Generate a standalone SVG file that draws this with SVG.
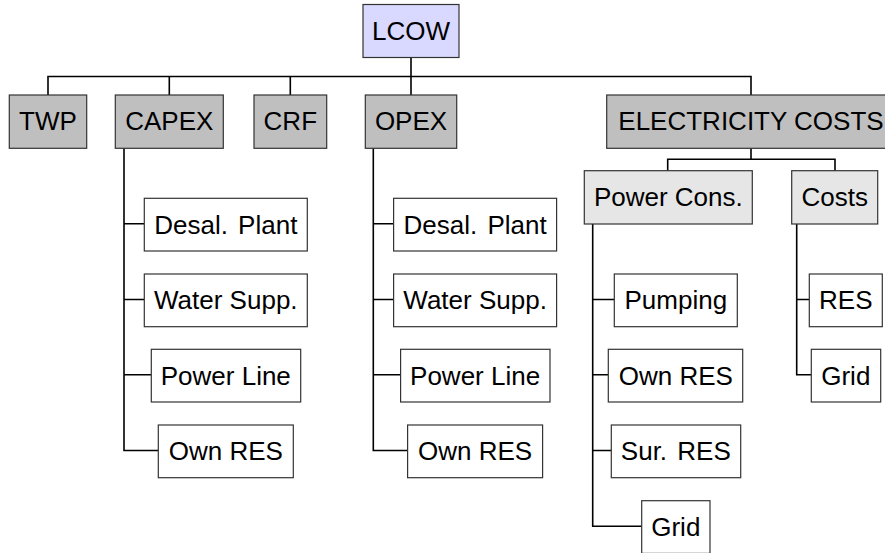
<svg xmlns="http://www.w3.org/2000/svg" width="885" height="553" viewBox="0 0 885 553">
<style>
  .root, .l1, .l2, .leaf { stroke: #333; stroke-width: 1.2; }
  .root { fill: #d9d9ff; }
  .l1 { fill: #bfbfbf; }
  .l2 { fill: #e6e6e6; }
  .leaf { fill: #ffffff; }
  text { font-family: "Liberation Sans", Arial, sans-serif; font-size: 26px; fill: #000; text-anchor: middle; }
  #connectors path { fill: none; stroke: #000; stroke-width: 1.6; }
</style>
<rect x="0" y="0" width="885" height="553" fill="#fff"/>
<g id="connectors">
  <path d="M411 57.5 V76.5 M48 95 V76.5 H751 V95 M169.3 76.5 V95 M290.3 76.5 V95 M411 76.5 V95"/>
  <path d="M124 148.3 V450.5 H158.3 M124 223.8 H144.3 M124 299.5 H144.3 M124 374.8 H151.3"/>
  <path d="M373.3 148.3 V450.5 H407.6 M373.3 223.8 H393.6 M373.3 299.5 H393.6 M373.3 374.8 H400.6"/>
  <path d="M751 148.3 V159.3 M667.7 170.7 V159.3 H835 V170.7"/>
  <path d="M592.7 224 V526.2 H641.7 M592.7 299.5 H614.3 M592.7 374.8 H608.3 M592.7 450.5 H611.3"/>
  <path d="M796.7 224 V374.8 H811.3 M796.7 299.5 H809.3"/>
</g>
<g id="lcow"><rect class="root" x="363" y="4.5" width="96" height="53"/><text x="411" y="40">LCOW</text></g>
<g id="twp"><rect class="l1" x="9.3" y="95" width="77.4" height="53.3"/><text x="48" y="130.4">TWP</text></g>
<g id="capex"><rect class="l1" x="115.3" y="95" width="108" height="53.3"/><text x="169.3" y="130.4">CAPEX</text></g>
<g id="crf"><rect class="l1" x="254" y="95" width="72.7" height="53.3"/><text x="290.3" y="130.4">CRF</text></g>
<g id="opex"><rect class="l1" x="365.3" y="95" width="91.4" height="53.3"/><text x="411" y="130.4">OPEX</text></g>
<g id="elec"><rect class="l1" x="606.7" y="95" width="288.6" height="53.3"/><text x="751" y="130.4">ELECTRICITY COSTS</text></g>

<g id="capex-desal"><rect class="leaf" x="144.3" y="198.3" width="163" height="52.7"/><text x="225.8" y="233.5">Desal.<tspan dx="3"> Plant</tspan></text></g>
<g id="capex-water"><rect class="leaf" x="144.3" y="274" width="163" height="52.7"/><text x="225.8" y="309.2">Water Supp.</text></g>
<g id="capex-power"><rect class="leaf" x="151.3" y="349.3" width="149.4" height="52.7"/><text x="225.8" y="384.5">Power Line</text></g>
<g id="capex-res"><rect class="leaf" x="158.3" y="425" width="135" height="52.7"/><text x="225.8" y="460.2">Own RES</text></g>

<g id="opex-desal"><rect class="leaf" x="393.6" y="198.3" width="163" height="52.7"/><text x="475.1" y="233.5">Desal.<tspan dx="3"> Plant</tspan></text></g>
<g id="opex-water"><rect class="leaf" x="393.6" y="274" width="163" height="52.7"/><text x="475.1" y="309.2">Water Supp.</text></g>
<g id="opex-power"><rect class="leaf" x="400.6" y="349.3" width="149.4" height="52.7"/><text x="475.1" y="384.5">Power Line</text></g>
<g id="opex-res"><rect class="leaf" x="407.6" y="425" width="135" height="52.7"/><text x="475.1" y="460.2">Own RES</text></g>

<g id="powercons"><rect class="l2" x="584.3" y="170.7" width="168" height="53.3"/><text x="668.3" y="206">Power Cons.</text></g>
<g id="costs"><rect class="l2" x="791.7" y="170.7" width="86" height="53.3"/><text x="834.7" y="206">Costs</text></g>

<g id="pc-pumping"><rect class="leaf" x="614.3" y="274" width="123" height="52.7"/><text x="675.8" y="309.2">Pumping</text></g>
<g id="pc-ownres"><rect class="leaf" x="608.3" y="349.3" width="134.4" height="52.7"/><text x="675.8" y="384.5">Own RES</text></g>
<g id="pc-surres"><rect class="leaf" x="611.3" y="425" width="129.4" height="52.7"/><text x="675.8" y="460.2">Sur.<tspan dx="3"> RES</tspan></text></g>
<g id="pc-grid"><rect class="leaf" x="641.7" y="500.7" width="68.3" height="52.7"/><text x="675.8" y="535.9">Grid</text></g>

<g id="costs-res"><rect class="leaf" x="809.3" y="274" width="73" height="52.7"/><text x="845.8" y="309.2">RES</text></g>
<g id="costs-grid"><rect class="leaf" x="811.3" y="349.3" width="69.4" height="52.7"/><text x="845.8" y="384.5">Grid</text></g>
</svg>
